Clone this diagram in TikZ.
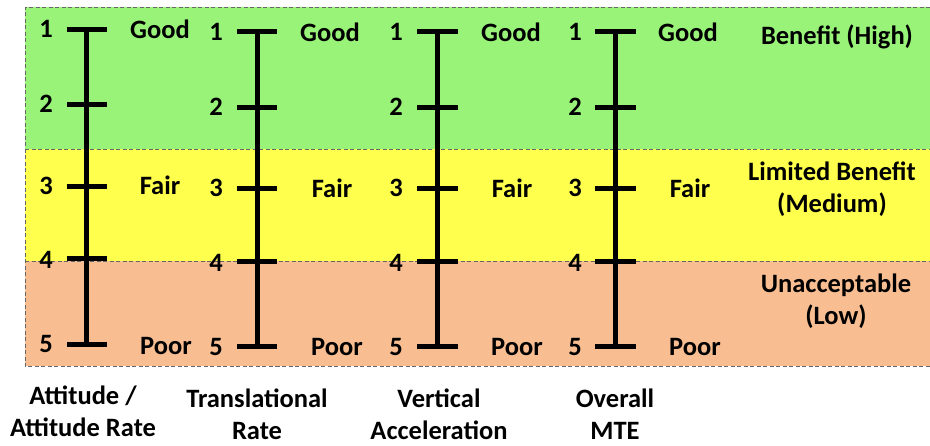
\documentclass[tikz,border=0pt]{standalone}
\usepackage{fontspec}
\setmainfont{Carlito}
\usetikzlibrary{positioning}
\definecolor{pGreen}{RGB}{152,243,120}
\definecolor{pYellow}{RGB}{255,255,77}
\definecolor{pOrange}{RGB}{248,190,146}
\definecolor{pGray}{gray}{0.4}
\tikzset{
    band/.style={draw=pGray, dashed, dash pattern=on 4pt off 2.5pt, line width=0.8pt},
    axis/.style={line width=5pt, black},
    tickbar/.style={line width=5pt, black, line cap=butt},
    lbl/.style={font=\fontsize{26.5}{32}\selectfont\bfseries, inner sep=0pt},
    caption/.style={lbl, align=center}
}
\begin{document}
\begin{tikzpicture}[x=1pt,y=-1pt]
\useasboundingbox (0,0) rectangle (930,445);
% bands
\fill[pGreen] (25,7) rectangle (930,149);
\fill[pYellow] (25,149) rectangle (930,261);
\fill[pOrange] (25,261) rectangle (930,366);
\draw[band] (930,7) -- (25,7) -- (25,366) -- (930,366);
\draw[band] (25,149) -- (930,149);
\draw[band] (25,261) -- (930,261);
% scale 1
\draw[axis] (86,29) -- (86,344);
\draw[tickbar] (67,29)--(107,29);
\draw[tickbar] (67,104)--(107,104);
\draw[tickbar] (67,186)--(107,186);
\draw[tickbar] (67,258)--(107,258);
\draw[tickbar] (67,344)--(107,344);
\node[lbl] (a1) at (46,29) {1};
\node[lbl] (a2) at (46,104) {2};
\node[lbl] (a3) at (46,186) {3};
\node[lbl] (a4) at (46,260) {4};
\node[lbl] (a5) at (46,344) {5};
\node[lbl] (aGood) at (160,29) {Good};
\node[lbl] (aFair) at (160,185) {Fair};
\node[lbl] (aPoor) at (166,346) {Poor};
% scale 2
\draw[axis] (257,31) -- (257,346);
\draw[tickbar] (237,31)--(277,31);
\draw[tickbar] (237,107)--(277,107);
\draw[tickbar] (237,188)--(277,188);
\draw[tickbar] (237,261)--(277,261);
\draw[tickbar] (237,346)--(277,346);
\node[lbl] (b1) at (216,32) {1};
\node[lbl] (b2) at (216,107) {2};
\node[lbl] (b3) at (216,188) {3};
\node[lbl] (b4) at (216,263) {4};
\node[lbl] (b5) at (216,347) {5};
\node[lbl] (bGood) at (330,32) {Good};
\node[lbl] (bFair) at (332,188) {Fair};
\node[lbl] (bPoor) at (337,347) {Poor};
% scale 3
\draw[axis] (437,31) -- (437,346);
\draw[tickbar] (417,31)--(458,31);
\draw[tickbar] (417,107)--(458,107);
\draw[tickbar] (417,188)--(458,188);
\draw[tickbar] (417,261)--(458,261);
\draw[tickbar] (417,346)--(458,346);
\node[lbl] (c1) at (396,32) {1};
\node[lbl] (c2) at (396,107) {2};
\node[lbl] (c3) at (396,188) {3};
\node[lbl] (c4) at (396,263) {4};
\node[lbl] (c5) at (396,347) {5};
\node[lbl] (cGood) at (511,32) {Good};
\node[lbl] (cFair) at (512,188) {Fair};
\node[lbl] (cPoor) at (517,347) {Poor};
% scale 4
\draw[axis] (615,31) -- (615,346);
\draw[tickbar] (595,31)--(636,31);
\draw[tickbar] (595,107)--(636,107);
\draw[tickbar] (595,188)--(636,188);
\draw[tickbar] (595,261)--(636,261);
\draw[tickbar] (595,346)--(636,346);
\node[lbl] (d1) at (575,32) {1};
\node[lbl] (d2) at (575,107) {2};
\node[lbl] (d3) at (575,188) {3};
\node[lbl] (d4) at (575,263) {4};
\node[lbl] (d5) at (575,347) {5};
\node[lbl] (dGood) at (688,32) {Good};
\node[lbl] (dFair) at (690,188) {Fair};
\node[lbl] (dPoor) at (695,347) {Poor};
% captions
\node[caption] (aCap) at (83,411) {Attitude /\\Attitude Rate};
\node[caption] (bCap) at (257,414) {Translational\\Rate};
\node[caption] (cCap) at (439,414) {Vertical\\Acceleration};
\node[caption] (dCap) at (615,414) {Overall\\MTE};
% levels
\node[lbl] (high) at (837,37) {Benefit (High)};
\node[caption] (medium) at (832,189) {Limited Benefit\\(Medium)};
\node[caption] (low) at (836,301) {Unacceptable\\(Low)};
\end{tikzpicture}
\end{document}
